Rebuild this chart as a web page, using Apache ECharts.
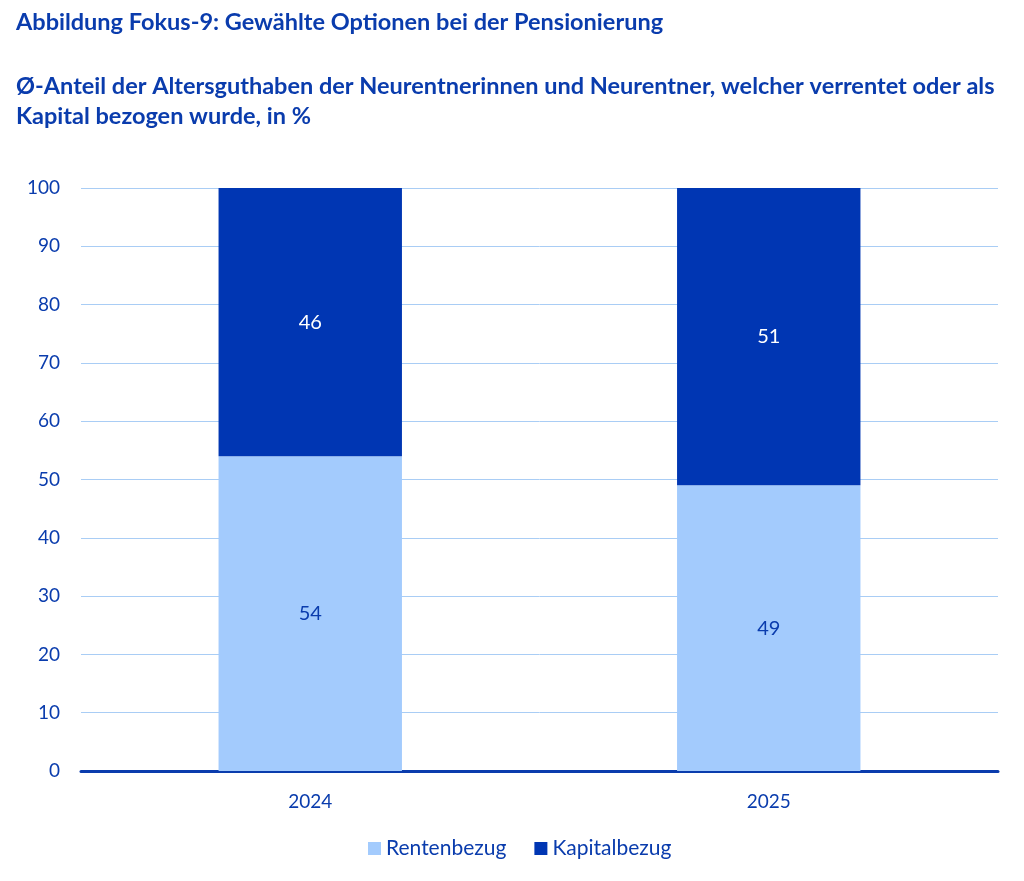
<!DOCTYPE html>
<html><head><meta charset="utf-8">
<script src="https://cdn.jsdelivr.net/npm/echarts@6/dist/echarts.min.js"></script>
<style>html,body{margin:0;padding:0;background:#fff}#c{width:1024px;height:881px}</style>
</head><body><div id="c"></div>
<script>
const categories = ['2024', '2025'];
const rentenbezug = [54, 49];
const kapitalbezug = [46, 51];
const yTicks = [0, 10, 20, 30, 40, 50, 60, 70, 80, 90, 100];

const FONT = 'Lato, "Open Sans", sans-serif';
const TXT = '#0a3cad';
const LIGHT = '#a3cbfd';
const DARK = '#0036b3';

const chart = echarts.init(document.getElementById('c'), null, {renderer: 'canvas'});
chart.setOption({
  animation: false,
  textStyle: {fontFamily: FONT},
  title: [
    {text: 'Abbildung Fokus-9: Gewählte Optionen bei der Pensionierung', left: 11, top: 5,
     textStyle: {fontFamily: FONT, fontSize: 23.5, fontWeight: 'bold', color: TXT}},
    {text: 'Ø-Anteil der Altersguthaben der Neurentnerinnen und Neurentner, welcher verrentet oder als\nKapital bezogen wurde, in %', left: 11, top: 66,
     textStyle: {fontFamily: FONT, fontSize: 23.5, fontWeight: 'bold', color: TXT, lineHeight: 30}}
  ],
  legend: {
    bottom: 17, left: 363, itemWidth: 13, itemHeight: 13, itemGap: 28,
    icon: 'rect',
    textStyle: {fontFamily: FONT, fontSize: 21, color: TXT},
    data: ['Rentenbezug', 'Kapitalbezug']
  },
  grid: {left: 81, right: 26, top: 188, bottom: 110, containLabel: false},
  xAxis: {
    type: 'category', data: categories,
    axisLine: {lineStyle: {color: '#0a3cad', width: 3}},
    axisTick: {show: false},
    axisLabel: {fontFamily: FONT, fontSize: 19, color: TXT, margin: 21}
  },
  yAxis: {
    type: 'value', min: 0, max: 100, interval: 10,
    axisLine: {show: false}, axisTick: {show: false},
    axisLabel: {fontFamily: FONT, fontSize: 19, color: TXT, margin: 21,
      formatter: v => yTicks.includes(v) ? String(v) : ''},
    splitLine: {lineStyle: {color: '#a9cdf5', width: 1}}
  },
  series: [
    {name: 'Rentenbezug', type: 'bar', stack: 's', data: rentenbezug, barWidth: '40%',
     itemStyle: {color: LIGHT},
     label: {show: true, position: 'inside', fontFamily: FONT, fontSize: 20, color: TXT}},
    {name: 'Kapitalbezug', type: 'bar', stack: 's', data: kapitalbezug, barWidth: '40%',
     itemStyle: {color: DARK},
     label: {show: true, position: 'inside', fontFamily: FONT, fontSize: 20, color: '#ffffff'}}
  ]
});
</script></body></html>
